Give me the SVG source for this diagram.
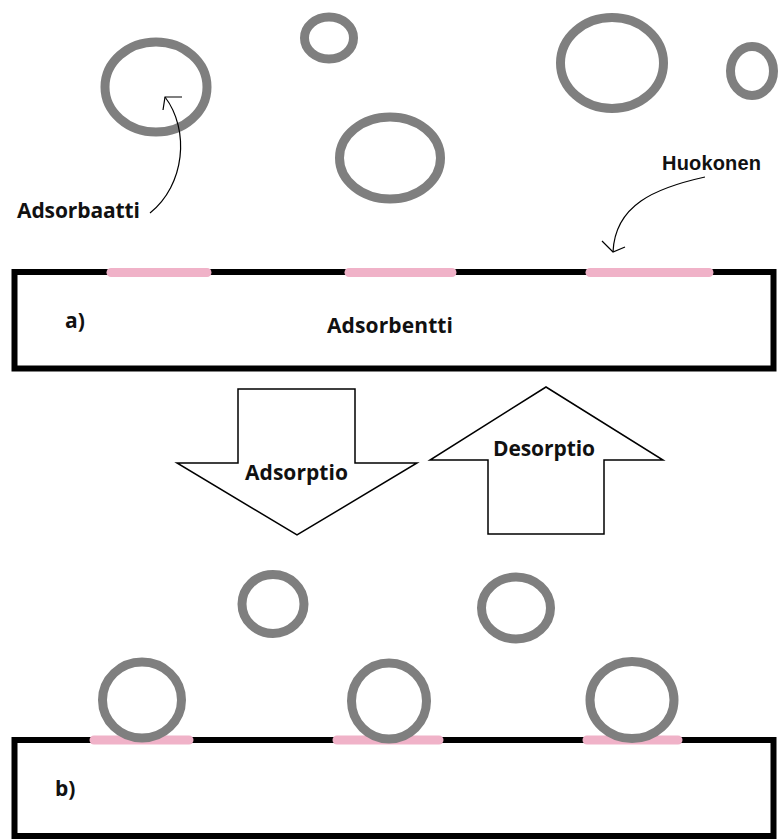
<svg xmlns="http://www.w3.org/2000/svg" width="778" height="839" viewBox="0 0 778 839">
  <style>
    .mol { fill: none; stroke: #7f7f7f; stroke-width: 9; }
    .box { fill: #ffffff; stroke: #000000; stroke-width: 6; }
    .pore { stroke: #f0b2c8; stroke-width: 9; stroke-linecap: round; }
    .bigarrow { fill: #ffffff; stroke: #000000; stroke-width: 1.5; stroke-linejoin: miter; }
    .lbl { font-family: "Open Sans", "Noto Sans", sans-serif; font-weight: bold; font-size: 21px; fill: #111111; }
    .lbl2 { font-family: "Liberation Sans", Arial, sans-serif; font-weight: bold; font-size: 20px; fill: #111111; }
    .conn { fill: none; stroke: #000000; stroke-width: 1.2; }
  </style>
  <rect width="778" height="839" fill="#ffffff"/>

  <!-- a) adsorbent with pores -->
  <g id="adsorbent-a">
    <rect class="box" x="14.5" y="272" width="759" height="96.5"/>
    <line class="pore" x1="111" y1="272.5" x2="207" y2="272.5"/>
    <line class="pore" x1="349" y1="272.5" x2="452" y2="272.5"/>
    <line class="pore" x1="590" y1="272.5" x2="709" y2="272.5"/>
    <text class="lbl" x="65" y="328" font-size="22">a)</text>
    <text class="lbl" x="327" y="333" textLength="126">Adsorbentti</text>
  </g>

  <!-- free molecules (top) -->
  <g id="molecule-1"><ellipse class="mol" cx="156" cy="87" rx="51" ry="45"/></g>
  <g id="molecule-2"><ellipse class="mol" cx="329" cy="38" rx="24.5" ry="21"/></g>
  <g id="molecule-3"><ellipse class="mol" cx="390" cy="158" rx="50.5" ry="41"/></g>
  <g id="molecule-4"><ellipse class="mol" cx="612" cy="63" rx="51.5" ry="45.5"/></g>
  <g id="molecule-5"><ellipse class="mol" cx="752" cy="71" rx="21.5" ry="24.5"/></g>

  <g id="label-adsorbaatti"><text class="lbl" x="17" y="218" textLength="123">Adsorbaatti</text></g>
  <g id="label-huokonen"><text class="lbl2" x="662" y="170" textLength="99">Huokonen</text></g>

  <!-- process arrows -->
  <g id="arrow-adsorptio">
    <polygon class="bigarrow" points="238,389 355,389 355,463 417,463 297,535 177,463 238,463"/>
    <text class="lbl" x="245" y="480" textLength="103">Adsorptio</text>
  </g>
  <g id="arrow-desorptio">
    <polygon class="bigarrow" points="546,387 663,460 604,460 604,534 488,534 488,460 430,460"/>
    <text class="lbl" x="493" y="456" textLength="102">Desorptio</text>
  </g>

  <!-- free molecules (middle) -->
  <g id="molecule-6"><ellipse class="mol" cx="273" cy="604" rx="31" ry="29.5"/></g>
  <g id="molecule-7"><ellipse class="mol" cx="516" cy="608" rx="34.5" ry="31"/></g>

  <!-- b) adsorbent with adsorbed molecules -->
  <g id="adsorbent-b">
    <rect class="box" x="14.5" y="740" width="759" height="96"/>
    <line class="pore" x1="94" y1="740" x2="189" y2="740"/>
    <line class="pore" x1="337" y1="740" x2="439" y2="740"/>
    <line class="pore" x1="587" y1="740" x2="678" y2="740"/>
    <text class="lbl" x="55" y="796" font-size="22">b)</text>
  </g>
  <g id="molecule-8"><ellipse class="mol" cx="142" cy="700" rx="39.5" ry="38"/></g>
  <g id="molecule-9"><ellipse class="mol" cx="389" cy="701" rx="37.5" ry="38"/></g>
  <g id="molecule-10"><ellipse class="mol" cx="632" cy="700" rx="42" ry="38.5"/></g>

  <!-- annotation connectors -->
  <g id="connectors">
    <path class="conn" d="M150,213 C185,185 190,130 165,97"/>
    <path class="conn" d="M182,97 L165,97 L163,110"/>
    <path class="conn" d="M705,177 C655,188 615,205 613,252"/>
    <path class="conn" d="M602,241 L613,252 L625,247"/>
  </g>
</svg>
